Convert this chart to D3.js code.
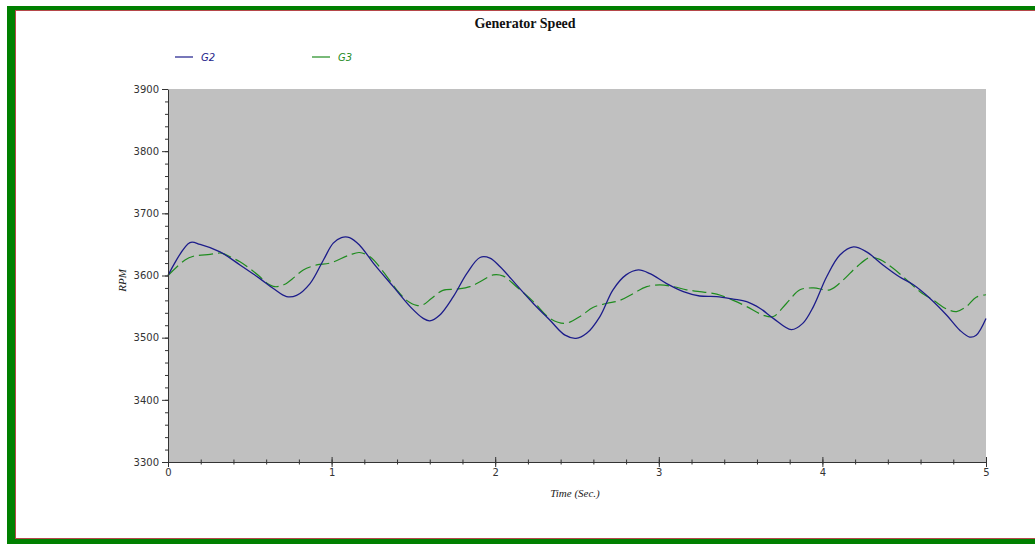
<!DOCTYPE html>
<html>
<head>
<meta charset="utf-8">
<script src="https://cdn.jsdelivr.net/npm/d3@7"></script>
<style>
  body { margin: 0; background: #fff; }
  svg { display: block; }
</style>
</head>
<body>
<div id="chart"></div>
<script>
// values
var g2Time = [0, 0.134, 0.196, 0.318, 0.44, 0.562, 0.644, 0.725, 0.786, 0.868, 0.95, 1.01, 1.06, 1.11, 1.17, 1.255, 1.377, 1.48, 1.56, 1.60, 1.66, 1.744, 1.826, 1.907, 1.968, 2.03, 2.13, 2.233, 2.335, 2.427, 2.494, 2.559, 2.64, 2.72, 2.80, 2.875, 2.946, 3.048, 3.15, 3.25, 3.354, 3.455, 3.537, 3.62, 3.70, 3.81, 3.88, 3.945, 4.026, 4.107, 4.19, 4.27, 4.37, 4.47, 4.556, 4.658, 4.76, 4.84, 4.90, 4.94, 5.0];
var g2Rpm = [3600, 3653, 3650, 3638, 3617, 3595, 3579, 3566, 3568, 3587, 3625, 3652, 3661, 3661, 3649, 3620, 3582, 3550, 3531, 3527, 3536, 3566, 3603, 3629, 3628, 3614, 3585, 3555, 3528, 3504, 3499, 3507, 3534, 3577, 3601, 3609, 3603, 3587, 3574, 3567, 3566, 3562, 3558, 3547, 3531, 3513, 3523, 3550, 3598, 3633, 3646, 3638, 3617, 3598, 3585, 3563, 3536, 3512, 3501, 3504, 3531];

var g3Time = [0, 0.104, 0.155, 0.257, 0.328, 0.38, 0.44, 0.50, 0.562, 0.603, 0.654, 0.715, 0.776, 0.827, 0.909, 0.99, 1.11, 1.17, 1.235, 1.316, 1.398, 1.459, 1.52, 1.56, 1.61, 1.68, 1.765, 1.846, 1.907, 1.988, 2.05, 2.13, 2.233, 2.335, 2.427, 2.518, 2.6, 2.68, 2.763, 2.844, 2.926, 3.007, 3.09, 3.17, 3.25, 3.354, 3.455, 3.537, 3.64, 3.70, 3.78, 3.863, 3.945, 4.046, 4.128, 4.21, 4.29, 4.35, 4.43, 4.515, 4.597, 4.68, 4.76, 4.82, 4.88, 4.94, 5.0];
var g3Rpm = [3600, 3625, 3631, 3634, 3636, 3630, 3622, 3611, 3598, 3588, 3582, 3586, 3598, 3609, 3617, 3620, 3633, 3637, 3630, 3606, 3577, 3560, 3552, 3553, 3563, 3576, 3578, 3582, 3590, 3601, 3599, 3582, 3558, 3531, 3523, 3534, 3549, 3555, 3560, 3571, 3582, 3585, 3582, 3577, 3574, 3570, 3560, 3550, 3536, 3534, 3555, 3577, 3580, 3577, 3593, 3614, 3629, 3626, 3612, 3593, 3574, 3560, 3546, 3542, 3550, 3565, 3569];

var xTicks = [0, 1, 2, 3, 4, 5];
var yTicks = [3300, 3400, 3500, 3600, 3700, 3800, 3900];

var W = 1035, H = 544;
var margin = {top: 89, right: 49, bottom: 82, left: 168};
var width = W - margin.left - margin.right,
    height = H - margin.top - margin.bottom;

var svg = d3.select("#chart").append("svg")
    .attr("width", W)
    .attr("height", H);

// frame
svg.append("rect")
    .attr("x", 7).attr("y", 6)
    .attr("width", W).attr("height", H)
    .attr("fill", "#008000");
svg.append("rect")
    .attr("x", 15.5).attr("y", 10.5)
    .attr("width", W).attr("height", 528)
    .attr("fill", "#fff")
    .attr("stroke", "#b5484a")
    .attr("stroke-width", 1);

var g = svg.append("g")
    .attr("transform", "translate(" + margin.left + "," + margin.top + ")");

var x = d3.scaleLinear().domain([0, 5]).range([0, width]);
var y = d3.scaleLinear().domain([3300, 3900]).range([height, 0]);

g.append("rect")
    .attr("x", 1).attr("y", 0)
    .attr("width", width - 1).attr("height", height)
    .attr("fill", "#c0c0c0");

// lines
var g2 = g2Time.map(function(t, i) { return [t, g2Rpm[i]]; });
var g3 = g3Time.map(function(t, i) { return [t, g3Rpm[i]]; });

var line = d3.line()
    .x(function(d) { return x(d[0]); })
    .y(function(d) { return y(d[1]); })
    .curve(d3.curveCatmullRom.alpha(0.5));

g.append("path")
    .datum(g3)
    .attr("fill", "none")
    .attr("stroke", "#1f8c1f")
    .attr("stroke-width", 1.2)
    .attr("stroke-dasharray", "14,5")
    .attr("d", line);

g.append("path")
    .datum(g2)
    .attr("fill", "none")
    .attr("stroke", "#1c1c8a")
    .attr("stroke-width", 1.3)
    .attr("d", line);

// y axis
var yMinor = d3.range(3300, 3901, 20);
g.append("g")
    .attr("class", "axis")
    .call(d3.axisLeft(y).tickValues(yMinor).tickSize(3).tickFormat(""))
    .call(function(s) { s.select(".domain").remove(); });
g.append("g")
    .attr("class", "axis")
    .call(d3.axisLeft(y).tickValues(yTicks).tickSize(6).tickSizeOuter(0).tickPadding(3)
        .tickFormat(d3.format("d")));

// x axis
var xMinor = d3.range(0, 5.01, 0.2);
g.append("g")
    .attr("class", "axis")
    .attr("transform", "translate(0," + (height - 2.5) + ")")
    .call(d3.axisBottom(x).tickValues(xMinor).tickSize(5).tickFormat(""))
    .call(function(s) { s.select(".domain").remove(); });
var xAxis = g.append("g")
    .attr("class", "axis")
    .attr("transform", "translate(0," + height + ")")
    .call(d3.axisBottom(x).tickValues(xTicks).tickSize(5).tickSizeOuter(0).tickPadding(2)
        .tickFormat(d3.format("d")));
xAxis.selectAll(".tick line").attr("y1", -5);

g.selectAll(".axis path, .axis line").attr("stroke", "#333");
g.selectAll(".axis text")
    .attr("fill", "#333")
    .style("font-family", "DejaVu Sans")
    .style("font-size", "10px");

// title and labels
svg.append("text")
    .attr("x", 525).attr("y", 28)
    .attr("text-anchor", "middle")
    .style("font-family", "Liberation Serif")
    .style("font-weight", "bold")
    .style("font-size", "14px")
    .attr("fill", "#111")
    .text("Generator Speed");

svg.append("text")
    .attr("x", 575).attr("y", 497)
    .attr("text-anchor", "middle")
    .style("font-family", "Liberation Serif")
    .style("font-style", "italic")
    .style("font-size", "11px")
    .attr("fill", "#222")
    .text("Time (Sec.)");

svg.append("text")
    .attr("transform", "translate(126," + (margin.top + height / 2 + 5) + ") rotate(-90)")
    .attr("text-anchor", "middle")
    .style("font-family", "Liberation Serif")
    .style("font-style", "italic")
    .style("font-size", "11px")
    .attr("fill", "#222")
    .text("RPM");

// legend
var legend = [
  {name: "G2", color: "#1c1c8a", x: 175},
  {name: "G3", color: "#1f8c1f", x: 312}
];
var lg = svg.selectAll(".legend").data(legend).enter().append("g")
    .attr("class", "legend")
    .attr("transform", function(d) { return "translate(" + d.x + ",57)"; });
lg.append("line")
    .attr("x1", 0).attr("x2", 18)
    .attr("stroke", function(d) { return d.color; })
    .attr("stroke-width", 1.2);
lg.append("text")
    .attr("x", 26).attr("y", 4)
    .style("font-family", "DejaVu Sans")
    .style("font-style", "italic")
    .style("font-size", "10px")
    .attr("fill", function(d) { return d.color; })
    .text(function(d) { return d.name; });
</script>
</body>
</html>
